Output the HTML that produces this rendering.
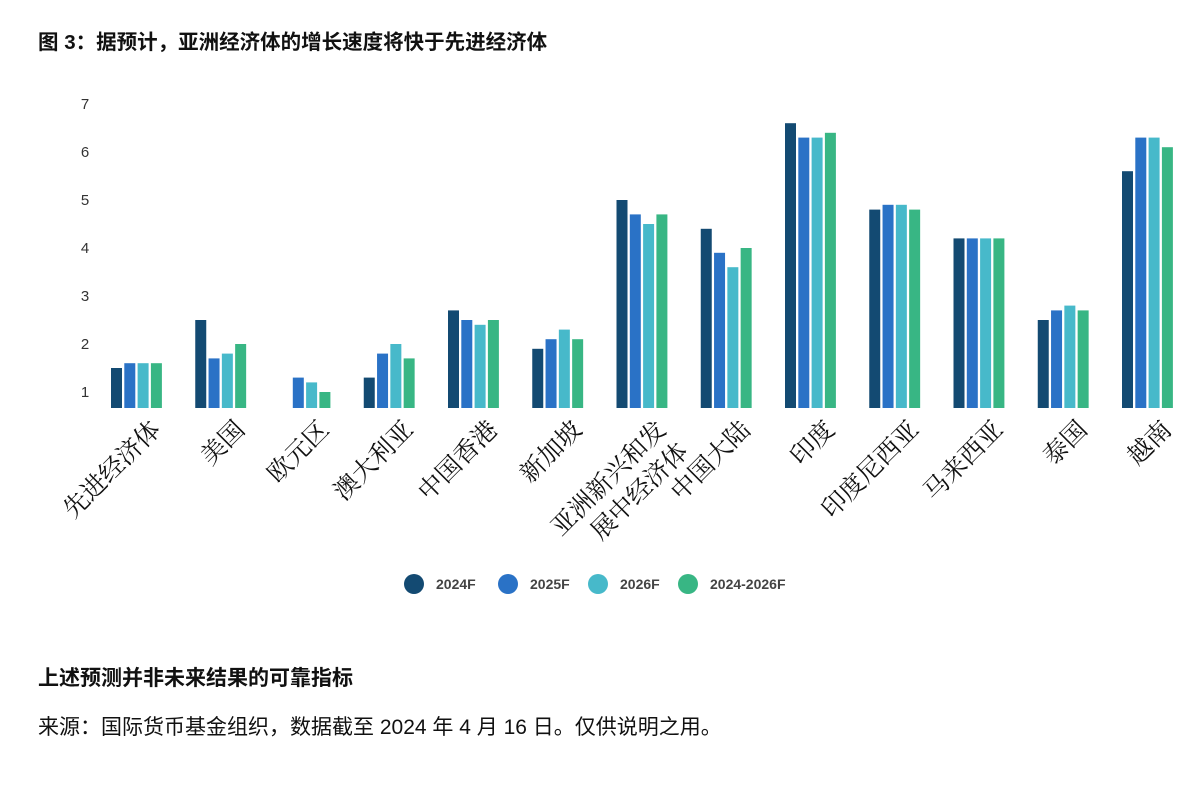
<!DOCTYPE html>
<html><head><meta charset="utf-8"><style>
body{margin:0;background:#fff;width:1200px;height:780px;overflow:hidden;font-family:"Liberation Sans","Noto Sans CJK SC",sans-serif}
</style></head><body>
<svg width="1200" height="780" xmlns="http://www.w3.org/2000/svg">
<text x="38" y="49" font-size="20.5" font-weight="bold" fill="#111" font-family="Liberation Sans, Noto Sans CJK SC, sans-serif">图 3：据预计，亚洲经济体的增长速度将快于先进经济体</text>
<g font-size="15" fill="#333" text-anchor="middle" font-family="Liberation Sans, sans-serif">
<text x="85" y="109">7</text><text x="85" y="157">6</text><text x="85" y="205">5</text><text x="85" y="253">4</text><text x="85" y="301">3</text><text x="85" y="349">2</text><text x="85" y="397">1</text>
</g>
<g id="bars"></g>
<g id="labels" font-size="25" fill="#111" text-anchor="end" font-family="Noto Serif CJK SC, serif"></g>
<g font-size="14" font-weight="bold" fill="#444" font-family="Liberation Sans, sans-serif">
<circle cx="414" cy="584" r="10" fill="#134a72"/><text x="436" y="589">2024F</text>
<circle cx="508" cy="584" r="10" fill="#2a72c6"/><text x="530" y="589">2025F</text>
<circle cx="598" cy="584" r="10" fill="#47b9ca"/><text x="620" y="589">2026F</text>
<circle cx="688" cy="584" r="10" fill="#38b684"/><text x="710" y="589">2024-2026F</text>
</g>
<text x="38" y="685" font-size="21" font-weight="bold" fill="#111" font-family="Liberation Sans, Noto Sans CJK SC, sans-serif">上述预测并非未来结果的可靠指标</text>
<text x="38" y="734" font-size="21" fill="#111" font-family="Liberation Sans, Noto Sans CJK SC, sans-serif">来源：国际货币基金组织，数据截至 2024 年 4 月 16 日。仅供说明之用。</text>
</svg>
<script>
var d=[["先进经济体",[1.5,1.6,1.6,1.6]],["美国",[2.5,1.7,1.8,2.0]],["欧元区",[0,1.3,1.2,1.0]],["澳大利亚",[1.3,1.8,2.0,1.7]],["中国香港",[2.7,2.5,2.4,2.5]],["新加坡",[1.9,2.1,2.3,2.1]],["亚洲新兴和发|展中经济体",[5.0,4.7,4.5,4.7]],["中国大陆",[4.4,3.9,3.6,4.0]],["印度",[6.6,6.3,6.3,6.4]],["印度尼西亚",[4.8,4.9,4.9,4.8]],["马来西亚",[4.2,4.2,4.2,4.2]],["泰国",[2.5,2.7,2.8,2.7]],["越南",[5.6,6.3,6.3,6.1]]];
var c=["#134a72","#2a72c6","#47b9ca","#38b684"],ns="http://www.w3.org/2000/svg";
var B=document.getElementById("bars"),L=document.getElementById("labels");
d.forEach(function(g,i){var cx=137+i*84.25;
g[1].forEach(function(v,j){if(!v)return;var y=392-(v-1)*48;var r=document.createElementNS(ns,"rect");
r.setAttribute("x",cx-26+j*13.3);r.setAttribute("width",11);r.setAttribute("y",y);r.setAttribute("height",408-y);r.setAttribute("fill",c[j]);B.appendChild(r);});
var parts=g[0].split("|");parts.forEach(function(p,k){var t=document.createElementNS(ns,"text");var x=cx+25+k*22,y=431+k*22;
t.setAttribute("transform","translate("+x+","+y+") rotate(-45)");t.textContent=p;L.appendChild(t);});
});
</script>
</body></html>
